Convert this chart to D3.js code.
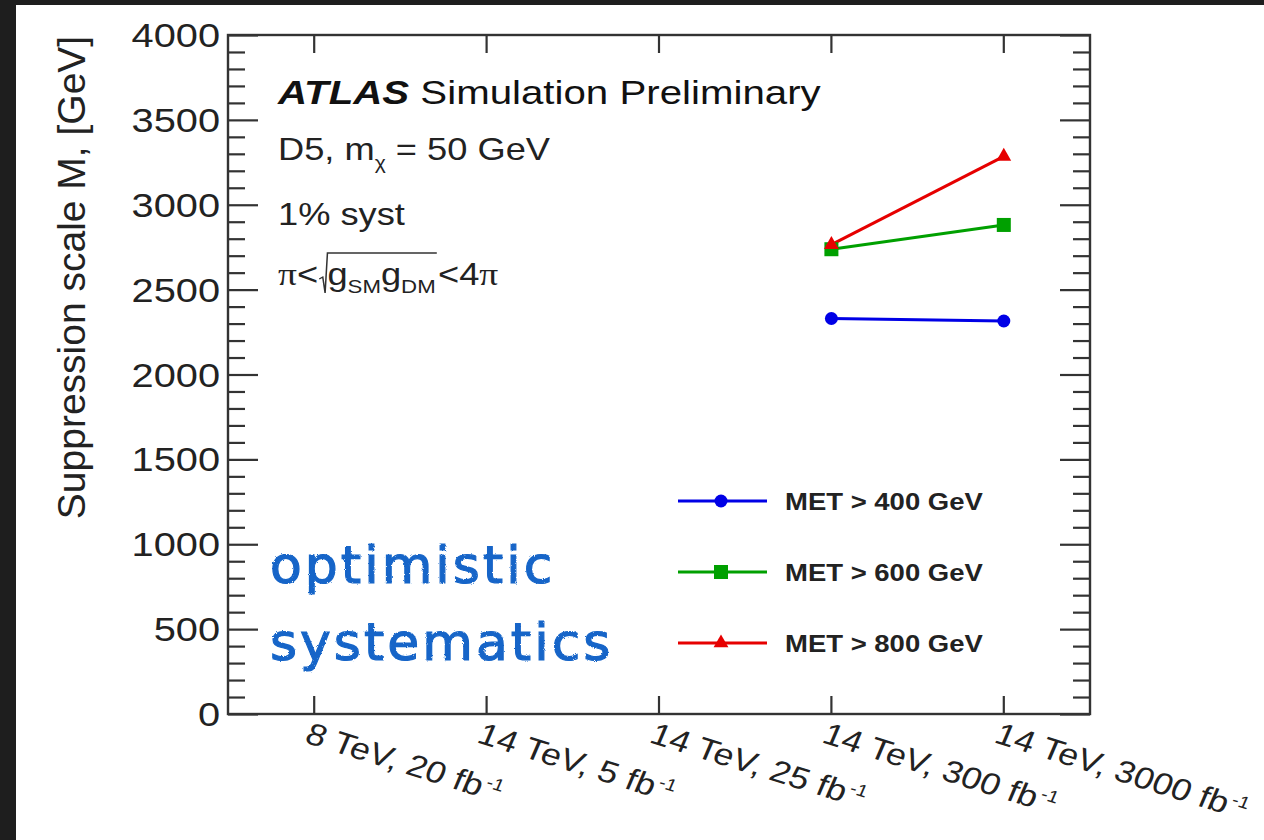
<!DOCTYPE html>
<html>
<head>
<meta charset="utf-8">
<script src="https://cdn.jsdelivr.net/npm/d3@7"></script>
<style>
  html, body { margin: 0; padding: 0; background: #1f1f1f; }
  svg { display: block; }
</style>
</head>
<body>
<svg id="chart" width="1264" height="840"></svg>
<script>
// Run conditions on the x axis (the "fb" part gets a "-1" superscript when drawn)
const categories = ["8 TeV, 20 fb", "14 TeV, 5 fb", "14 TeV, 25 fb", "14 TeV, 300 fb", "14 TeV, 3000 fb"];

// Suppression scale reach [GeV] per run condition; null = not evaluated
const met400 = [null, null, null, 2330, 2315];
const met600 = [null, null, null, 2738, 2881];
const met800 = [null, null, null, 2765, 3285];

const seriesNames = ["MET > 400 GeV", "MET > 600 GeV", "MET > 800 GeV"];
const seriesColors = ["#0000e6", "#00a000", "#e60000"];
const seriesMarkers = ["circle", "square", "triangle"];

const yTicks = [0, 500, 1000, 1500, 2000, 2500, 3000, 3500, 4000];
const yMinorStep = 100;

const svg = d3.select("#chart");
const W = 1264, H = 840;

// page frame: dark border, white canvas
svg.append("rect").attr("x", 0).attr("y", 0).attr("width", W).attr("height", H).attr("fill", "#1e1e1e");
svg.append("rect").attr("x", 16).attr("y", 5).attr("width", W - 16).attr("height", H - 5).attr("fill", "#ffffff");

// rough-edged ink for the handwritten note
const defs = svg.append("defs");
const f = defs.append("filter").attr("id", "ink").attr("x", "-5%").attr("y", "-10%").attr("width", "110%").attr("height", "120%");
f.append("feTurbulence").attr("type", "fractalNoise").attr("baseFrequency", 0.9).attr("numOctaves", 2).attr("result", "n");
f.append("feDisplacementMap").attr("in", "SourceGraphic").attr("in2", "n").attr("scale", 2.5);

const plot = { left: 228, right: 1090, top: 35, bottom: 714 };
const x = d3.scaleBand().domain(categories).range([plot.left, plot.right]).padding(0);
const xc = c => x(c) + x.bandwidth() / 2;
const y = d3.scaleLinear().domain([0, 4000]).range([plot.bottom, plot.top]);

const FONT = "'Liberation Sans', Arial, Helvetica, sans-serif";
const SX = 1.17;               // horizontal stretch of all lettering
const axisColor = "#333333";

// ---- axes -------------------------------------------------------------
const minorTicks = d3.range(0, 4000 + 1, yMinorStep).filter(v => v % 500 !== 0);

const yLeft = d3.axisRight(y).tickValues(yTicks).tickSize(30).tickFormat("");
const yLeftMinor = d3.axisRight(y).tickValues(minorTicks).tickSize(17).tickFormat("");
const yRight = d3.axisLeft(y).tickValues(yTicks).tickSize(30).tickFormat("");
const yRightMinor = d3.axisLeft(y).tickValues(minorTicks).tickSize(17).tickFormat("");
const xBottom = d3.axisTop(x).tickValues(categories).tickSize(18).tickFormat("").offset(0);
const xTop = d3.axisBottom(x).tickValues(categories).tickSize(18).tickFormat("").offset(0);

function styleAxis(g) {
  g.select(".domain").remove();
  g.selectAll(".tick line").attr("stroke", axisColor).attr("stroke-width", 2.2);
}
svg.append("g").attr("transform", `translate(${plot.left},0)`).call(yLeft).call(styleAxis);
svg.append("g").attr("transform", `translate(${plot.left},0)`).call(yLeftMinor).call(styleAxis);
svg.append("g").attr("transform", `translate(${plot.right},0)`).call(yRight).call(styleAxis);
svg.append("g").attr("transform", `translate(${plot.right},0)`).call(yRightMinor).call(styleAxis);
svg.append("g").attr("transform", `translate(0,${plot.bottom})`).call(xBottom).call(styleAxis);
svg.append("g").attr("transform", `translate(0,${plot.top})`).call(xTop).call(styleAxis);

// frame
svg.append("rect")
  .attr("x", plot.left).attr("y", plot.top)
  .attr("width", plot.right - plot.left).attr("height", plot.bottom - plot.top)
  .attr("fill", "none").attr("stroke", axisColor).attr("stroke-width", 2.4);

// y tick labels
svg.append("g").selectAll("g").data(yTicks).join("g")
  .attr("transform", d => `translate(220,${y(d) + 12}) scale(${SX},1)`)
  .append("text")
  .attr("text-anchor", "end")
  .attr("font-family", FONT).attr("font-size", 34).attr("fill", "#222")
  .text(d => d);

// y axis title
svg.append("text")
  .attr("transform", `translate(85,${(35 + 520) / 2}) rotate(-90)`)
  .attr("text-anchor", "middle")
  .attr("font-family", FONT).attr("font-size", 39).attr("fill", "#222")
  .text("Suppression scale M, [GeV]");

// x tick labels, rotated
const xl = svg.append("g").selectAll("g").data(categories).join("g")
  .attr("transform", d => `translate(${xc(d) - 11},742) scale(1.17,1) rotate(20)`)
  .append("text")
  .attr("font-family", FONT).attr("font-size", 30.5).attr("fill", "#222");
xl.append("tspan").text(d => d);
xl.append("tspan").attr("font-size", 17).attr("dy", -11).attr("dx", 2).text("-1");

// ---- series -----------------------------------------------------------
const series = [met400, met600, met800].map((vals, i) => ({
  name: seriesNames[i], color: seriesColors[i], marker: seriesMarkers[i],
  points: categories.map((c, j) => ({ c, v: vals[j] })).filter(p => p.v !== null)
}));

const line = d3.line().x(p => xc(p.c)).y(p => y(p.v));

function drawMarker(g, type, color) {
  if (type === "circle") {
    g.append("circle").attr("r", 6.5).attr("fill", color);
  } else if (type === "square") {
    g.append("rect").attr("x", -7).attr("y", -7).attr("width", 14).attr("height", 14).attr("fill", color);
  } else {
    g.append("path").attr("d", d3.symbol(d3.symbolTriangle, 95)()).attr("fill", color);
  }
}

series.forEach(s => {
  svg.append("path").datum(s.points)
    .attr("d", line).attr("fill", "none")
    .attr("stroke", s.color).attr("stroke-width", 3);
});
series.forEach(s => {
  s.points.forEach(p => {
    const g = svg.append("g").attr("transform", `translate(${xc(p.c)},${y(p.v)})`);
    drawMarker(g, s.marker, s.color);
  });
});

// ---- legend -----------------------------------------------------------
const legendTop = 501, legendGap = 71;
series.forEach((s, i) => {
  const ly = legendTop + i * legendGap;
  svg.append("line").attr("x1", 678).attr("x2", 767).attr("y1", ly).attr("y2", ly)
    .attr("stroke", s.color).attr("stroke-width", 3);
  const g = svg.append("g").attr("transform", `translate(721,${ly})`);
  drawMarker(g, s.marker, s.color);
  svg.append("g").attr("transform", `translate(785,${ly + 9}) scale(${SX},1)`)
    .append("text").attr("font-family", FONT).attr("font-weight", "bold")
    .attr("font-size", 23.5).attr("fill", "#222").text(s.name);
});

// ---- annotation block -------------------------------------------------
const TX = 278;
const atl = svg.append("g").attr("transform", `translate(${TX},104) scale(1.22,1)`)
  .append("text").attr("font-family", FONT).attr("font-size", 33).attr("fill", "#111");
atl.append("tspan").attr("font-weight", "bold").attr("font-style", "italic").text("ATLAS");
atl.append("tspan").text(" Simulation Preliminary");

const d5 = svg.append("g").attr("transform", `translate(${TX},160) scale(${SX},1)`)
  .append("text").attr("font-family", FONT).attr("font-size", 31).attr("fill", "#222");
d5.append("tspan").text("D5, m");
d5.append("tspan").attr("font-size", 18).attr("dy", 9).text("χ");
d5.append("tspan").attr("dy", -9).text(" = 50 GeV");

svg.append("g").attr("transform", `translate(${TX},225) scale(${SX},1)`)
  .append("text").attr("font-family", FONT).attr("font-size", 31).attr("fill", "#222")
  .text("1% syst");

// coupling range with a drawn radical
const cg = svg.append("g").attr("transform", `translate(${TX},285) scale(${SX},1)`);
let cx = 0;
function piece(txt, opts = {}) {
  const t = cg.append("text").attr("x", cx).attr("y", opts.dy || 0)
    .attr("font-family", opts.serif ? "'Liberation Serif', 'DejaVu Serif', serif" : FONT)
    .attr("font-size", opts.size || 31).attr("fill", "#222").text(txt);
  cx += t.node().getComputedTextLength();
  return t;
}
piece("π", { serif: true, size: 32 });
piece("<");
const radX = cx + 1;
cx += 8;
piece("g");
piece("SM", { size: 19, dy: 8 });
piece("g");
piece("DM", { size: 19, dy: 8 });
const radEnd = cx + 1;
cx += 2;
piece("<4");
piece("π", { serif: true, size: 32 });
cg.append("path")
  .attr("d", `M${radX},-6 L${radX + 3},-8 L${radX + 5},8 L${radX + 7},-32 L${radEnd},-32`)
  .attr("fill", "none").attr("stroke", "#333").attr("stroke-width", 1.3);

// handwritten note
const note = svg.append("g").attr("filter", "url(#ink)");
["optimistic", "systematics"].forEach((w, i) => {
  note.append("text")
    .attr("x", 270).attr("y", 583 + i * 77)
    .attr("font-family", "'DejaVu Sans', sans-serif").attr("font-size", 52)
    .attr("letter-spacing", 3)
    .attr("fill", "#1565c8").attr("stroke", "#1565c8").attr("stroke-width", 1.2)
    .text(w);
});
</script>
</body>
</html>
